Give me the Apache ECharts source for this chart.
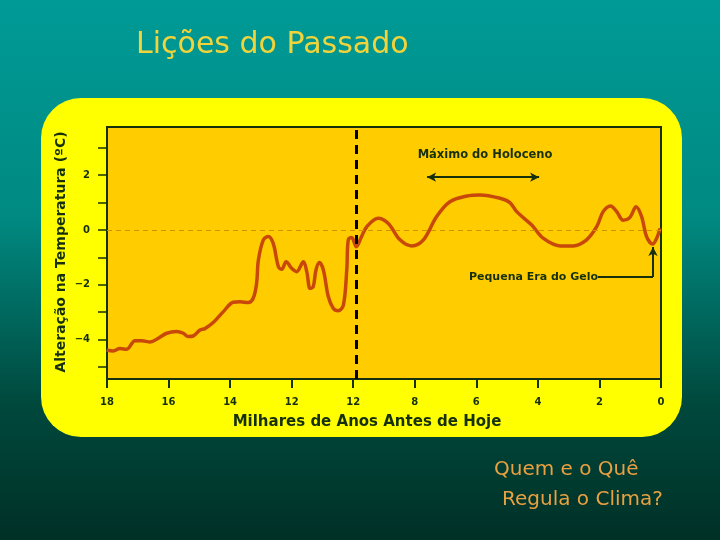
<!DOCTYPE html>
<html>
<head>
<meta charset="utf-8">
<script src="https://cdn.jsdelivr.net/npm/echarts@6/dist/echarts.min.js"></script>
<style>html,body{margin:0;padding:0;}#c{width:720px;height:540px;}</style>
</head>
<body>
<div id="c"></div>
<script>
// Thousands of years before present
var years = [18.01,17.80,17.58,17.36,17.09,16.87,16.60,16.33,16.06,15.74,15.52,15.36,15.20,14.98,14.82,14.55,14.22,13.90,13.68,13.41,13.25,13.14,13.08,12.92,12.76,12.60,12.43,12.32,12.18,12.00,11.84,11.62,11.51,11.40,11.30,11.21,11.10,10.97,10.81,10.65,10.49,10.32,10.21,10.16,10.05,9.90,9.73,9.56,9.19,8.86,8.48,8.10,7.72,7.29,6.86,6.31,5.88,5.23,4.91,4.69,4.20,3.83,3.28,2.85,2.42,2.09,1.88,1.64,1.44,1.23,1.01,0.81,0.63,0.47,0.27,0.14,0.03];
// Temperature change (ºC)
var temps = [-4.38,-4.42,-4.33,-4.35,-4.04,-4.04,-4.09,-3.95,-3.77,-3.71,-3.77,-3.89,-3.87,-3.65,-3.60,-3.38,-2.98,-2.64,-2.62,-2.65,-2.49,-1.95,-1.09,-0.36,-0.24,-0.49,-1.34,-1.43,-1.16,-1.40,-1.52,-1.16,-1.52,-2.13,-2.07,-1.46,-1.19,-1.46,-2.43,-2.86,-2.95,-2.74,-1.46,-0.36,-0.27,-0.61,-0.24,0.12,0.43,0.24,-0.36,-0.58,-0.36,0.49,1.03,1.24,1.28,1.16,1.00,0.67,0.18,-0.30,-0.58,-0.58,-0.36,0.12,0.67,0.88,0.67,0.36,0.46,0.85,0.49,-0.24,-0.51,-0.30,0.06];
var xTickValues = [18,16,14,12,10,8,6,4,2,0];
var xTickLabels = ['18','16','14','12','12','8','6','4','2','0'];
var yTickValues = [-5,-4,-3,-2,-1,0,1,2,3];
var yLabelValues = [-4,-2,0,2];
var boundaryYear = 9.9;
var holoceneRange = [7.6, 3.96];
var holoceneLevel = 1.93;
var littleIceAge = {year: 0.26, temp: -0.62, labelYear: 2.05, labelTemp: -1.72};

var ink = '#16300c';
var fontFam = '"DejaVu Sans", Verdana, sans-serif';

var chart = echarts.init(document.getElementById('c'), null, {renderer: 'canvas'});
var seriesData = years.map(function (y, i) { return [y, temps[i]]; });

chart.setOption({
  animation: false,
  backgroundColor: {
    type: 'linear', x: 0, y: 0, x2: 0, y2: 1,
    colorStops: [
      {offset: 0, color: '#009a96'},
      {offset: 0.4, color: '#008a82'},
      {offset: 0.75, color: '#00483c'},
      {offset: 1, color: '#003026'}
    ]
  },
  graphic: [
    {type: 'rect', z: -10, shape: {x: 41, y: 98, width: 641, height: 339, r: 40}, style: {fill: '#ffff00'}},
    {type: 'text', left: 136, top: 30, style: {text: 'Lições do Passado', fill: '#f2d43a', font: '30px ' + fontFam}},
    {type: 'text', x: 61, y: 252, rotation: Math.PI / 2, style: {text: 'Alteração na Temperatura (ºC)', fill: ink, font: 'bold 14px ' + fontFam, textAlign: 'center', textVerticalAlign: 'middle'}},
    {type: 'text', x: 367, y: 422, style: {text: 'Milhares de Anos Antes de Hoje', fill: ink, font: 'bold 15px ' + fontFam, textAlign: 'center', textVerticalAlign: 'middle'}},
    {type: 'text', x: 485, y: 155, z: 10, style: {text: 'Máximo do Holoceno', fill: ink, font: 'bold 11.5px ' + fontFam, textAlign: 'center', textVerticalAlign: 'middle'}},
    {type: 'text', x: 598, y: 277, z: 10, style: {text: 'Pequena Era do Gelo', fill: ink, font: 'bold 11px ' + fontFam, textAlign: 'right', textVerticalAlign: 'middle'}},
    {type: 'text', x: 494, y: 470, style: {text: 'Quem e o Quê', fill: '#e8a040', font: '20px ' + fontFam, textVerticalAlign: 'middle'}},
    {type: 'text', x: 502, y: 500, style: {text: 'Regula o Clima?', fill: '#e8a040', font: '20px ' + fontFam, textVerticalAlign: 'middle'}}
  ],
  grid: {left: 107, right: 59, top: 127, bottom: 161, show: true, backgroundColor: '#ffcc00', borderColor: ink, borderWidth: 2},
  xAxis: {
    type: 'value', min: 0, max: 18, inverse: true,
    axisLine: {show: true, onZero: false, lineStyle: {color: ink, width: 2}},
    axisTick: {show: true, length: 9, customValues: xTickValues, lineStyle: {color: ink, width: 2}},
    splitLine: {show: false},
    axisLabel: {
      customValues: xTickValues, margin: 18, color: ink, fontFamily: fontFam, fontWeight: 'bold', fontSize: 10,
      formatter: function (v) { var i = xTickValues.indexOf(v); return i >= 0 ? xTickLabels[i] : ''; }
    }
  },
  yAxis: {
    type: 'value', min: -5.44, max: 3.76, position: 'left',
    axisLine: {show: true, onZero: false, lineStyle: {color: ink, width: 2}},
    axisTick: {show: true, length: 9, customValues: yTickValues, lineStyle: {color: ink, width: 1.5}},
    splitLine: {show: false},
    axisLabel: {customValues: yLabelValues, margin: 17, color: ink, fontFamily: fontFam, fontWeight: 'bold', fontSize: 10,
      formatter: function (v) { return String(v).replace('-', '−'); }}
  },
  series: [{
    type: 'line',
    data: seriesData,
    smooth: 0.35,
    showSymbol: false,
    lineStyle: {color: '#c8480a', width: 3.5},
    markLine: {
      silent: true,
      symbol: ['none', 'none'],
      label: {show: false},
      data: [
        {yAxis: 0, lineStyle: {color: '#d09400', width: 1, type: [5, 4]}},
        {xAxis: boundaryYear, lineStyle: {color: '#000', width: 3, type: [9, 6]}},
        [
          {coord: [holoceneRange[0], holoceneLevel], symbol: 'arrow', symbolSize: [7, 9], lineStyle: {color: ink, width: 2, type: 'solid'}},
          {coord: [holoceneRange[1], holoceneLevel], symbol: 'arrow', symbolSize: [7, 9]}
        ],
        [
          {coord: [littleIceAge.labelYear, littleIceAge.labelTemp], symbol: 'none', lineStyle: {color: ink, width: 2, type: 'solid'}},
          {coord: [littleIceAge.year, littleIceAge.labelTemp], symbol: 'none'}
        ],
        [
          {coord: [littleIceAge.year, littleIceAge.labelTemp], symbol: 'none', lineStyle: {color: ink, width: 2, type: 'solid'}},
          {coord: [littleIceAge.year, littleIceAge.temp], symbol: 'arrow', symbolSize: [7, 9]}
        ]
      ]
    }
  }]
});
</script>
</body>
</html>
